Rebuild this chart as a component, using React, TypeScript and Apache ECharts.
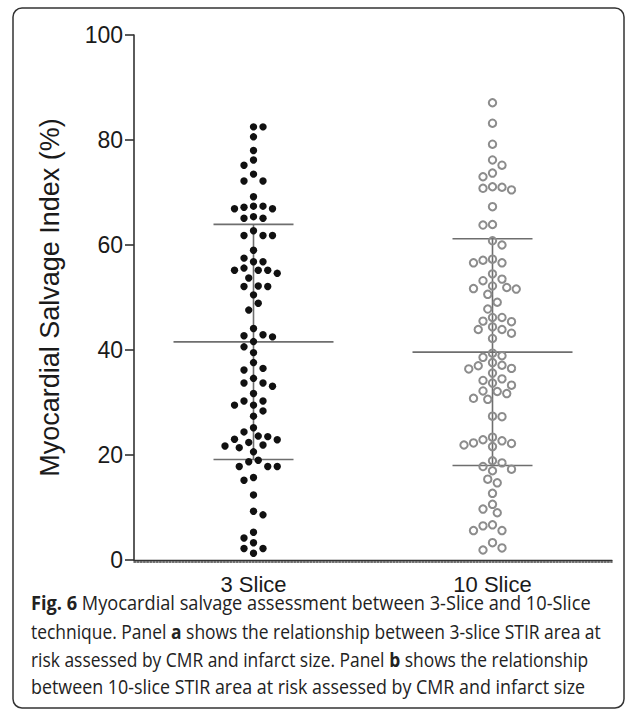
import React, { useEffect, useRef } from "react";
import * as echarts from "echarts";

// Group labels on the x axis
const categories = ["3 Slice", "10 Slice"];

// Y axis range and ticks (%)
const yMin = 0;
const yMax = 100;
const yInterval = 20;

// Myocardial salvage index (%) per patient, 3-slice technique
const slice3 = [
  82.5, 82.5, 80.6, 78.0, 76.2, 75.2, 73.5, 72.2, 72.2, 69.2,
  66.9, 67.4, 67.2, 67.4, 66.9, 65.1, 65.1, 65.4,
  61.8, 61.8, 61.8, 62.7, 59.0, 57.5, 56.8, 56.8,
  55.2, 55.2, 54.6, 55.2, 55.6, 53.7, 52.1, 52.2, 52.1,
  50.5, 48.9, 47.6, 44.1, 42.7, 42.9, 42.5, 41.6, 40.6,
  39.5, 37.6, 36.5, 36.2, 34.6, 33.7, 33.1, 33.7, 31.7,
  30.3, 29.5, 29.5, 30.3, 28.4, 27.4, 25.2, 24.4,
  23.6, 23.0, 22.9, 23.5, 21.9, 21.4, 22.4, 20.6, 21.7,
  19.0, 18.7, 17.8, 17.8, 17.8, 15.7, 15.2, 12.4, 9.3, 8.6,
  5.3, 4.2, 3.3, 2.2, 2.2, 1.3,
];

// Myocardial salvage index (%) per patient, 10-slice technique
const slice10 = [
  87.1, 83.2, 79.2, 76.2, 75.2, 73.7, 73.0,
  71.0, 70.5, 70.8, 71.1, 67.3, 63.8, 63.9, 60.8, 60.0,
  57.1, 56.6, 56.6, 57.3, 54.5, 53.5, 53.2,
  52.2, 51.7, 51.6, 51.9, 50.6, 49.1, 47.8,
  46.2, 45.5, 44.4, 45.4, 46.2, 43.9, 43.2, 43.9, 42.2,
  38.9, 37.6, 38.6, 39.4, 37.0, 36.4, 35.6, 36.5, 37.1,
  34.2, 33.3, 33.7, 34.5, 32.2, 30.8, 30.6, 31.7, 32.1,
  27.3, 27.4, 23.4, 22.7, 22.2, 21.6, 21.9, 22.3, 22.9,
  18.5, 17.3, 17.0, 17.8, 18.9, 14.7, 15.4, 12.7,
  10.6, 9.0, 9.7, 6.7, 5.6, 5.6, 6.5, 3.3, 1.9, 2.3,
];

const groups = [slice3, slice10];

// Caption lines; {b|...} marks bold runs
const captionLines = [
  "{b|Fig. 6} Myocardial salvage assessment between 3-Slice and 10-Slice",
  "technique. Panel {b|a} shows the relationship between 3-slice STIR area at",
  "risk assessed by CMR and infarct size. Panel {b|b} shows the relationship",
  "between 10-slice STIR area at risk assessed by CMR and infarct size",
];
// Set width of each caption line in px
const captionWidths = [560, 570, 557, 554];

const AXIS_FONT = '"Liberation Sans", Arial, Helvetica, sans-serif';
const CAPTION_FONT = '"Open Sans", "Noto Sans", sans-serif';
const CAPTION_SIZE = 20;

function meanSd(values: number[]) {
  const n = values.length;
  const mean = values.reduce((a, b) => a + b, 0) / n;
  const variance = values.reduce((a, v) => a + (v - mean) * (v - mean), 0) / (n - 1);
  return { mean, sd: Math.sqrt(variance) };
}

// Greedy beeswarm: horizontal pixel offsets so that dots don't overlap
function swarmOffsets(ys: number[], step: number, minDist: number) {
  const order = ys.map((_, i) => i).sort((a, b) => ys[a] - ys[b]);
  const placed: { x: number; y: number }[] = [];
  const off = new Array(ys.length).fill(0);
  let side = 1;
  for (const i of order) {
    const y = ys[i];
    const free = (dx: number) =>
      placed.every((p) => Math.hypot(p.x - dx, p.y - y) >= minDist);
    for (let k = 0; k < 60; k++) {
      const cands = k === 0 ? [0] : [side * k * step, -side * k * step];
      const hit = cands.find(free);
      if (hit !== undefined) {
        off[i] = hit;
        if (hit !== 0) side = -side;
        placed.push({ x: hit, y });
        break;
      }
    }
  }
  return off;
}

function measureCaption(line: string) {
  const ctx = document.createElement("canvas").getContext("2d")!;
  let width = 0;
  const parts = line.split(/(\{b\|[^}]*\})/);
  for (const part of parts) {
    const m = part.match(/^\{b\|([^}]*)\}$/);
    ctx.font = `${m ? "bold " : ""}${CAPTION_SIZE}px ${CAPTION_FONT}`;
    width += ctx.measureText(m ? m[1] : part).width;
  }
  return width;
}

function dotSeries(catIndex: number, values: number[], filled: boolean) {
  let offsets: number[] | null = null;
  return {
    type: "custom",
    coordinateSystem: "cartesian2d",
    z: 3,
    data: values.map((v) => [catIndex, v]),
    encode: { x: 0, y: 1 },
    renderItem: (params: any, api: any) => {
      if (!offsets) {
        const ys = values.map((v) => api.coord([catIndex, v])[1]);
        offsets = swarmOffsets(ys, 4.75, filled ? 9.2 : 9.4);
      }
      const c = api.coord([catIndex, values[params.dataIndex]]);
      return {
        type: "circle",
        shape: { cx: c[0] + offsets[params.dataIndex], cy: c[1], r: 3.7 },
        style: filled
          ? { fill: "#111", stroke: "none" }
          : { fill: "none", stroke: "#8c8c8c", lineWidth: 2 },
      };
    },
  };
}

function summarySeries() {
  const stats = groups.map(meanSd);
  return {
    type: "custom",
    coordinateSystem: "cartesian2d",
    z: 2,
    data: stats.map((s, i) => [i, s.mean, s.sd]),
    encode: { x: 0, y: 1 },
    renderItem: (params: any, api: any) => {
      const i = api.value(0);
      const mean = api.value(1);
      const sd = api.value(2);
      const m = api.coord([i, mean]);
      const hi = api.coord([i, mean + sd]);
      const lo = api.coord([i, mean - sd]);
      const style = { stroke: "#6e6e6e", lineWidth: 1.6 };
      return {
        type: "group",
        children: [
          { type: "line", shape: { x1: m[0] - 80, y1: m[1], x2: m[0] + 80, y2: m[1] }, style },
          { type: "line", shape: { x1: hi[0] - 40, y1: hi[1], x2: hi[0] + 40, y2: hi[1] }, style },
          { type: "line", shape: { x1: lo[0] - 40, y1: lo[1], x2: lo[0] + 40, y2: lo[1] }, style },
          { type: "line", shape: { x1: m[0], y1: hi[1], x2: m[0], y2: lo[1] }, style },
        ],
      };
    },
  };
}

export default function App() {
  const ref = useRef<HTMLDivElement>(null);

  useEffect(() => {
    if (!ref.current) return;
    const chart = echarts.init(ref.current, undefined, { renderer: "svg" });

    const captionTexts = captionLines.map((line, i) => ({
      type: "text",
      x: 31,
      y: 603 + i * 28,
      scaleX: captionWidths[i] / measureCaption(line),
      style: {
        text: line,
        fontSize: CAPTION_SIZE,
        fontFamily: CAPTION_FONT,
        fill: "#222",
        verticalAlign: "middle",
        rich: {
          b: { fontWeight: "bold", fontSize: CAPTION_SIZE, fontFamily: CAPTION_FONT, fill: "#222" },
        },
      },
    }));

    const labelStyle = { fontSize: 22, color: "#1a1a1a", fontFamily: AXIS_FONT };

    chart.setOption({
      animation: false,
      backgroundColor: "#fff",
      grid: { left: 134, top: 35, width: 478, height: 525 },
      xAxis: [
        {
          type: "category",
          data: categories,
          axisLine: { lineStyle: { color: "#333", width: 1.4 } },
          axisTick: { alignWithLabel: true, length: 8, lineStyle: { color: "#333", width: 1.5 } },
          axisLabel: { ...labelStyle, margin: 13 },
          splitLine: { show: false },
        },
        {
          // dotted rule running just under the baseline
          type: "category",
          data: categories,
          position: "bottom",
          offset: 1.6,
          axisLine: { lineStyle: { color: "#444", width: 1.6, type: [1.6, 1.6] } },
          axisTick: { show: false },
          axisLabel: { show: false },
          splitLine: { show: false },
        },
      ],
      yAxis: {
        type: "value",
        min: yMin,
        max: yMax,
        interval: yInterval,
        name: "Myocardial Salvage Index (%)",
        nameLocation: "middle",
        nameGap: 71,
        nameTextStyle: { fontSize: 27, color: "#1a1a1a", fontFamily: AXIS_FONT },
        axisLine: { show: true, lineStyle: { color: "#333", width: 1.6 } },
        axisTick: { show: true, length: 9, lineStyle: { color: "#333", width: 1.6 } },
        axisLabel: { ...labelStyle, fontSize: 23, margin: 11 },
        splitLine: { show: false },
      },
      graphic: [
        {
          type: "rect",
          shape: { x: 13, y: 8, width: 611, height: 700, r: 9 },
          style: { fill: "none", stroke: "#333", lineWidth: 1.5 },
          silent: true,
        },
        ...captionTexts,
      ],
      series: [summarySeries(), dotSeries(0, slice3, true), dotSeries(1, slice10, false)],
    });

    return () => chart.dispose();
  }, []);

  return (
    <div
      ref={ref}
      style={{ position: "absolute", left: 0, top: 0, width: 637, height: 715 }}
    />
  );
}
